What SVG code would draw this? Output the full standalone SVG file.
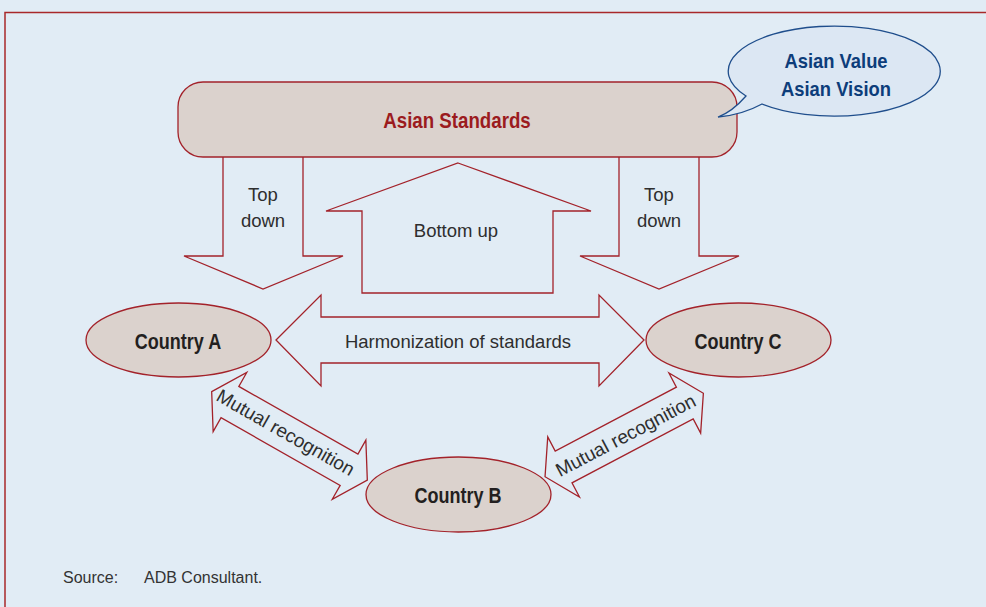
<svg xmlns="http://www.w3.org/2000/svg" width="986" height="607" viewBox="0 0 986 607">
<defs>
<style>
.arrow{fill:none;stroke:#A3222A;stroke-width:1.3;stroke-linejoin:miter}
.node{fill:#DBD2CD;stroke:#A3222A;stroke-width:1.3}
.lbl{font-family:"Liberation Sans",Arial,sans-serif;font-size:18.5px;fill:#2E2E2E;text-anchor:middle}
.mr{font-size:19px}
.bold{font-family:"Liberation Sans",Arial,sans-serif;font-weight:bold;text-anchor:middle}
</style>
<polygon id="dbl" points="-89.5,0 -68.5,-34 -68.5,-18 68.5,-18 68.5,-34 89.5,0 68.5,34 68.5,18 -68.5,18 -68.5,34"/>
</defs>
<rect x="0" y="0" width="986" height="607" fill="#E1ECF5"/>
<rect x="5" y="12.5" width="1000" height="700" fill="none" stroke="#A8282A" stroke-width="1.5"/>

<g id="asian-standards">
<rect x="178" y="82" width="559" height="75" rx="25" ry="25" class="node"/>
<text x="457" y="128" class="bold" font-size="22" fill="#9B1B1E" transform="translate(457 0) scale(0.85 1) translate(-457 0)">Asian Standards</text>
</g>

<g id="asian-value-bubble">
<path d="M762,104 A106,45 0 1 0 746,96 Q732,112 718,117 Q742,115 762,104 Z" fill="#DCE7F3" stroke="#1F4E8C" stroke-width="1.3"/>
<text x="836" y="68" class="bold" font-size="20" fill="#0D3D7A" transform="translate(836 0) scale(0.92 1) translate(-836 0)">Asian Value</text>
<text x="836" y="96" class="bold" font-size="20" fill="#0D3D7A" transform="translate(836 0) scale(0.92 1) translate(-836 0)">Asian Vision</text>
</g>

<g id="connectors">
<g id="top-down-left">
<path class="arrow" d="M223,157 V256 H184 L263,289 L343,256 H303 V157"/>
<text x="263" y="201" class="lbl">Top</text>
<text x="263" y="227" class="lbl">down</text>
</g>
<g id="top-down-right">
<path class="arrow" d="M619,157 V256 H580 L659,289 L739,256 H699 V157"/>
<text x="659" y="201" class="lbl">Top</text>
<text x="659" y="227" class="lbl">down</text>
</g>
<g id="bottom-up">
<polygon class="arrow" points="458,163 591,211 553,211 553,293 362,293 362,211 326,211"/>
<text x="456" y="237" class="lbl">Bottom up</text>
</g>
<g id="harmonization">
<polygon class="arrow" points="276,340 321,295 321,317 599,317 599,295 644,340 599,386 599,363 321,363 321,386"/>
<text x="458" y="348" class="lbl">Harmonization of standards</text>
</g>
<g id="mutual-left" transform="translate(289.5 435.9) rotate(29.6)">
<use href="#dbl" class="arrow"/>
<text x="-5" y="5.5" class="lbl mr">Mutual recognition</text>
</g>
<g id="mutual-right" transform="translate(624.2 435) rotate(-27.8)">
<use href="#dbl" class="arrow"/>
<text x="1" y="7.5" class="lbl mr">Mutual recognition</text>
</g>
</g>

<g id="country-a">
<ellipse cx="178.5" cy="340" rx="92.5" ry="37" class="node"/>
<text x="178" y="349" class="bold" font-size="22" fill="#231F20" transform="translate(178 0) scale(0.82 1) translate(-178 0)">Country A</text>
</g>
<g id="country-c">
<ellipse cx="738.5" cy="340" rx="92.5" ry="37" class="node"/>
<text x="738" y="349" class="bold" font-size="22" fill="#231F20" transform="translate(738 0) scale(0.82 1) translate(-738 0)">Country C</text>
</g>
<g id="country-b">
<ellipse cx="458.5" cy="494.5" rx="92.5" ry="37.5" class="node"/>
<text x="458" y="503" class="bold" font-size="22" fill="#231F20" transform="translate(458 0) scale(0.82 1) translate(-458 0)">Country B</text>
</g>

<g id="source">
<text x="63" y="583" font-family="Liberation Sans, Arial, sans-serif" font-size="16" fill="#333333">Source:</text>
<text x="144" y="583" font-family="Liberation Sans, Arial, sans-serif" font-size="16" fill="#333333">ADB Consultant.</text>
</g>
</svg>
